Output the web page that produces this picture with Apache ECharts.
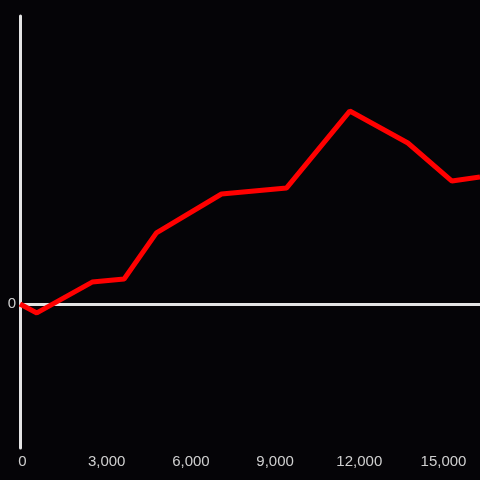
<!DOCTYPE html>
<html>
<head>
<meta charset="utf-8">
<style>html,body{margin:0;padding:0;background:#050407;}#c{width:480px;height:480px;}</style>
<script src="https://cdn.jsdelivr.net/npm/echarts@6/dist/echarts.min.js"></script>
</head>
<body>
<div id="c"></div>
<script>
var xValues = [0, 600, 2570, 3710, 4860, 7180, 9500, 11750, 13820, 15390, 16390];
var yValues = [0, -3.1, 7.6, 8.7, 24.7, 38.2, 40.3, 67.0, 55.9, 42.7, 44.1];
var xTicks = [0, 3000, 6000, 9000, 12000, 15000];
var yTicks = [0];

var data = xValues.map(function (x, i) { return [x, yValues[i]]; });
var chart = echarts.init(document.getElementById('c'));
chart.setOption({
  backgroundColor: '#050407',
  animation: false,
  grid: { left: 20, right: 0, top: 16, bottom: 32, containLabel: false },
  xAxis: {
    type: 'value', min: 0, max: 16390, interval: 3000,
    axisLine: { show: false }, axisTick: { show: false }, splitLine: { show: false },
    axisLabel: {
      color: '#cfcfcf', fontSize: 15, fontFamily: 'Liberation Sans', margin: 6,
      padding: [0, 0, 0, 5],
      showMaxLabel: false,
      formatter: function (v) { return xTicks.indexOf(v) >= 0 ? v.toLocaleString('en-US') : ''; }
    }
  },
  yAxis: {
    type: 'value', min: -50, max: 100, interval: 50,
    axisLine: { show: true, lineStyle: { color: '#e4e4e4', width: 3 } },
    axisTick: { show: false }, splitLine: { show: false },
    axisLabel: {
      color: '#cfcfcf', fontSize: 15, fontFamily: 'Liberation Sans', margin: 4,
      padding: [3, 0, 0, 0],
      formatter: function (v) { return yTicks.indexOf(v) >= 0 ? String(v) : ''; }
    }
  },
  series: [{
    type: 'line', data: data, symbol: 'none', z: 3,
    lineStyle: { color: '#ff0000', width: 5 },
    markLine: {
      silent: true, symbol: 'none', label: { show: false }, z: 2,
      lineStyle: { color: '#e4e4e4', width: 3, type: 'solid' },
      data: [{ yAxis: 0 }]
    }
  }]
});
</script>
</body>
</html>
